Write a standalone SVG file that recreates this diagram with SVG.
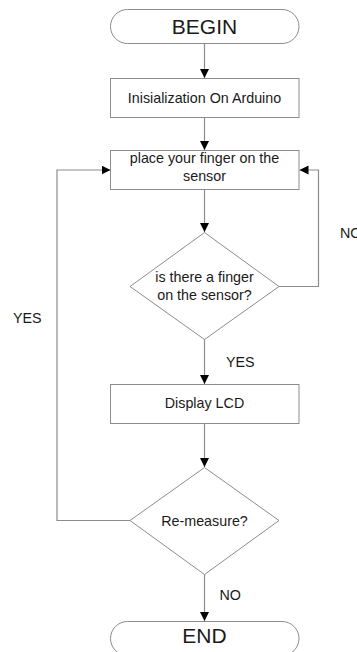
<svg xmlns="http://www.w3.org/2000/svg" width="357" height="652" viewBox="0 0 357 652">
<defs>
<marker id="ah" markerWidth="10" markerHeight="10" refX="9" refY="4.5" orient="auto" markerUnits="userSpaceOnUse">
<path d="M0,0 L9,4.5 L0,9 Z" fill="#000"/>
</marker>
<style>
.shape{fill:#fff;stroke:#8c8c8c;stroke-width:1}
.conn{fill:none;stroke:#8c8c8c;stroke-width:1.2}
.t{font-family:"Liberation Sans",Arial,sans-serif;font-size:14.3px;fill:#1a1a1a;text-anchor:middle}
.big{font-size:21px}
.lbl{font-family:"Liberation Sans",Arial,sans-serif;font-size:14.3px;fill:#1a1a1a}
</style>
</defs>
<rect width="357" height="652" fill="#fff"/>
<g id="connectors">
<path class="conn" d="M204.5,43 V78" marker-end="url(#ah)"/>
<path class="conn" d="M204.5,117.5 V150" marker-end="url(#ah)"/>
<path class="conn" d="M204.5,189.5 V232" marker-end="url(#ah)"/>
<path class="conn" d="M279,286.5 H318.5 V170 H299.5" marker-end="url(#ah)"/>
<path class="conn" d="M204.5,339 V384" marker-end="url(#ah)"/>
<path class="conn" d="M204.5,423 V467" marker-end="url(#ah)"/>
<path class="conn" d="M130,520.5 H57 V170 H110.5" marker-end="url(#ah)"/>
<path class="conn" d="M204.5,574 V621" marker-end="url(#ah)"/>
<text class="lbl" x="340" y="237.5">NO</text>
<text class="lbl" x="13" y="322.5">YES</text>
<text class="lbl" x="226" y="366.5">YES</text>
<text class="lbl" x="219.5" y="600">NO</text>
</g>
<g id="begin">
<rect class="shape" x="110.5" y="9.5" width="188.5" height="34" rx="17" ry="17"/>
<text class="t big" x="204.5" y="33.5">BEGIN</text>
</g>
<g id="init">
<rect class="shape" x="110.5" y="78.5" width="188.5" height="39"/>
<text class="t" x="204.5" y="103.3">Inisialization On Arduino</text>
</g>
<g id="place">
<rect class="shape" x="110.5" y="150.5" width="188.5" height="39"/>
<text class="t" x="204.5" y="163.3">place your finger on the</text>
<text class="t" x="204.5" y="181">sensor</text>
</g>
<g id="check">
<path class="shape" d="M204.5,232.5 L279,286.5 L204.5,339.5 L130,286.5 Z"/>
<text class="t" x="204.5" y="281.5">is there a finger</text>
<text class="t" x="204.5" y="299.5">on the sensor?</text>
</g>
<g id="display">
<rect class="shape" x="110.5" y="384.5" width="188.5" height="39"/>
<text class="t" x="204.5" y="407.5">Display LCD</text>
</g>
<g id="remeasure">
<path class="shape" d="M204.5,467.5 L279,520.5 L204.5,574.5 L130,520.5 Z"/>
<text class="t" x="204.5" y="525.5">Re-measure?</text>
</g>
<g id="end">
<rect class="shape" x="110.5" y="621.5" width="188.5" height="34" rx="17" ry="17"/>
<text class="t big" x="204.5" y="643">END</text>
</g>
</svg>
